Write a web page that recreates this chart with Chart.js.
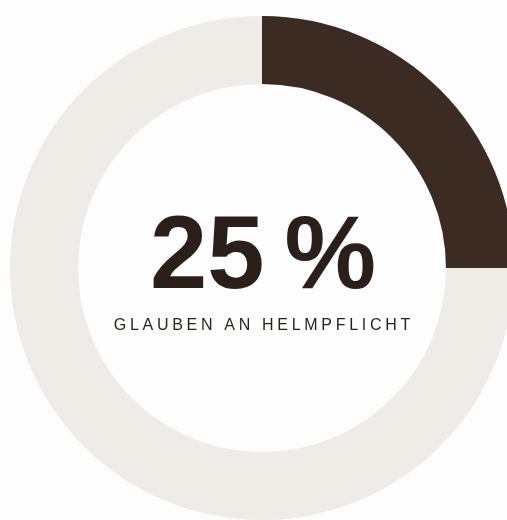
<!DOCTYPE html>
<html>
<head>
<meta charset="utf-8">
<script src="https://cdn.jsdelivr.net/npm/chart.js@4/dist/chart.umd.min.js"></script>
<style>
  html, body { margin: 0; padding: 0; background: #fdfdfd; overflow: hidden; width: 507px; height: 520px; }
  #wrap { position: absolute; left: 10px; top: 16px; width: 504px; height: 504px; }
</style>
</head>
<body>
<div id="wrap"><canvas id="diagram"></canvas></div>
<script>
// data
const labels = ['Glauben an Helmpflicht', 'Rest'];
const values = [25, 75];
const colors = ['#3b2b23', '#efece7'];
const bigText = '25 %';
const subText = 'GLAUBEN AN HELMPFLICHT';

// tekst i midten
const centerText = {
    id: 'centerText',
    afterDraw(chart) {
        const c = chart.ctx;
        const arc = chart.getDatasetMeta(0).data[0];
        const cx = arc.x, cy = arc.y;
        c.save();
        c.fillStyle = '#2b1f1a';
        c.textBaseline = 'alphabetic';
        c.textAlign = 'left';

        // "25" og "%" hver for seg, så mellomrommet blir smalere
        c.font = 'bold 103px "Liberation Sans", Arial, sans-serif';
        const parts = bigText.split(' ');
        const gap = 20;
        const w1 = c.measureText(parts[0]).width;
        const w2 = c.measureText(parts[1]).width;
        let x = cx - (w1 + gap + w2) / 2 + 1;
        c.fillText(parts[0], x, cy + 20);
        c.fillText(parts[1], x + w1 + gap, cy + 20);

        // undertekst med luft mellom bokstavene
        c.font = '16px "Liberation Sans", Arial, sans-serif';
        const sp = 3.7;
        let total = 0;
        for (const ch of subText) total += c.measureText(ch).width + sp;
        total -= sp;
        x = cx - total / 2;
        for (const ch of subText) {
            c.fillText(ch, x, cy + 62);
            x += c.measureText(ch).width + sp;
        }
        c.restore();
    }
};

const ctx = document.getElementById('diagram');

new Chart(ctx, {
    type: 'doughnut',
    data: {
        labels: labels,
        datasets: [{
            data: values,
            backgroundColor: colors,
            borderWidth: 0
        }]
    },
    options: {
        responsive: true,
        maintainAspectRatio: false,
        animation: false,
        cutout: '73%',
        layout: { padding: 0 },
        plugins: {
            legend: { display: false },
            tooltip: { enabled: false }
        }
    },
    plugins: [centerText]
});
</script>
</body>
</html>
